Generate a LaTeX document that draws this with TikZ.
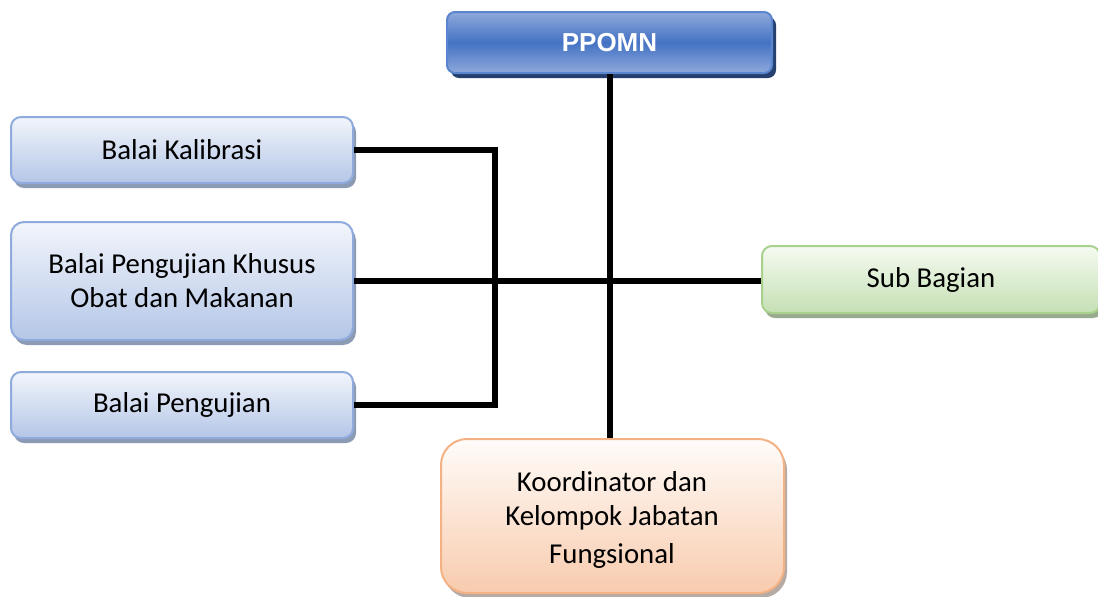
\documentclass[tikz,border=0pt]{standalone}
\usepackage{fontspec}
\setmainfont{Carlito}
\newfontfamily\arialfont{Liberation Sans}
\usetikzlibrary{shadows}
\definecolor{bluetop}{HTML}{F2F5FB}
\definecolor{bluebot}{HTML}{B4C6E7}
\definecolor{blueedge}{HTML}{8FAADC}
\definecolor{blueshadow}{HTML}{8C9BB4}
\definecolor{darkmid}{HTML}{4472C4}
\definecolor{darkedge}{HTML}{8EA9DB}
\definecolor{darkborder}{HTML}{5A85CF}
\definecolor{darkshadow}{HTML}{25406E}
\definecolor{greentop}{HTML}{F5FAF1}
\definecolor{greenbot}{HTML}{C5E0B4}
\definecolor{greenedge}{HTML}{A9D18E}
\definecolor{greenshadow}{HTML}{9AAA8E}
\definecolor{orangetop}{HTML}{FFFCFA}
\definecolor{orangebot}{HTML}{F8CBAD}
\definecolor{orangeedge}{HTML}{F4B183}
\definecolor{orangeshadow}{HTML}{B5ABA4}
\tikzset{
  box/.style={rectangle, align=center, font=\fontsize{14.4}{17}\selectfont, line width=1pt, inner sep=0pt},
  bluebox/.style={box, draw=blueedge, top color=bluetop, bottom color=bluebot,
    drop shadow={shadow xshift=1.5pt, shadow yshift=-2.5pt, fill=blueshadow, opacity=1}},
  greenbox/.style={box, draw=greenedge, top color=greentop, bottom color=greenbot,
    drop shadow={shadow xshift=1.5pt, shadow yshift=-2.5pt, fill=greenshadow, opacity=1}},
  orangebox/.style={box, draw=orangeedge, top color=orangetop, bottom color=orangebot,
    drop shadow={shadow xshift=1.5pt, shadow yshift=-2.5pt, fill=orangeshadow, opacity=1}},
  headbox/.style={box, draw=darkborder, top color=darkedge, bottom color=darkedge, middle color=darkmid,
    text=white, font=\arialfont\bfseries\fontsize{13}{16}\selectfont,
    drop shadow={shadow xshift=2pt, shadow yshift=-2.5pt, fill=darkshadow, opacity=1}},
  conn/.style={line width=3.3pt, line cap=butt, line join=miter, black}
}
\begin{document}
\begin{tikzpicture}[x=0.5pt,y=-0.5pt]
\useasboundingbox (0,0) rectangle (1098,596);
\node[headbox, minimum width=162.5pt, minimum height=30.5pt, rounded corners=4pt] (ppomn) at (609.5,42.5) {PPOMN};
\node[bluebox, minimum width=171pt, minimum height=33pt, rounded corners=5pt] (kal) at (182,150) {Balai Kalibrasi};
\node[bluebox, minimum width=171pt, minimum height=59pt, rounded corners=6.5pt] (khusus) at (182,281) {Balai Pengujian Khusus\\Obat dan Makanan};
\node[bluebox, minimum width=171pt, minimum height=33pt, rounded corners=5pt] (uji) at (182,405) {Balai Pengujian};
\node[greenbox, minimum width=169pt, minimum height=33.5pt, rounded corners=5pt] (sub) at (931,279.5) {Sub Bagian};
\node[orangebox, minimum width=171.5pt, minimum height=77pt, rounded corners=13pt] (koord) at (612.5,516) {};
\node[box, anchor=center] (ktext) at (612,520) {Koordinator dan\\Kelompok Jabatan\\[2pt]Fungsional};
\coordinate (bx) at (495,281);
\coordinate (vx) at (610,281);
\draw[conn] (ppomn.south -| vx) -- (koord.north -| vx);
\draw[conn] (khusus.east) -- (khusus.east -| sub.west);
\draw[conn] (kal.east) -- (kal.east -| bx) -- (uji.east -| bx) -- (uji.east);
\end{tikzpicture}
\end{document}
